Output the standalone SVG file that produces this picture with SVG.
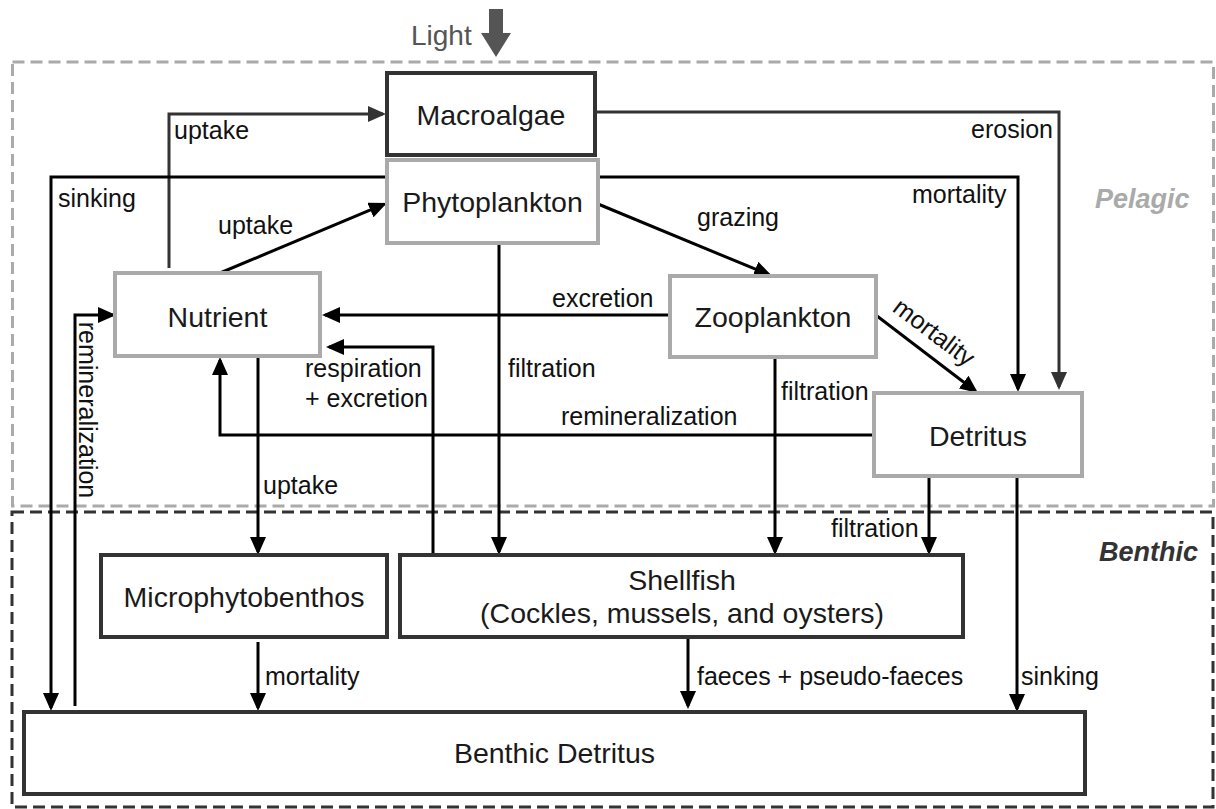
<svg xmlns="http://www.w3.org/2000/svg" width="1216" height="809" viewBox="0 0 1216 809">
<style>
.node{font-family:"Liberation Sans",Arial,sans-serif;font-size:28.5px;fill:#1a1a1a;text-anchor:middle}
.lbl{font-family:"Liberation Sans",Arial,sans-serif;font-size:25px;fill:#111}
.zone{font-family:"Liberation Sans",Arial,sans-serif;font-size:27px;font-weight:bold;font-style:italic}
.dk{fill:#fff;stroke:#333;stroke-width:4}
.gr{fill:#fff;stroke:#aaa;stroke-width:4}
.c{fill:none;stroke:#000;stroke-width:3;marker-end:url(#ah)}
.c2{fill:none;stroke:#333;stroke-width:3;marker-end:url(#ah2)}
</style>
<defs>
<marker id="ah" markerUnits="userSpaceOnUse" markerWidth="18" markerHeight="16" refX="15" refY="8" orient="auto"><path d="M0,0 L18,8 L0,16 z" fill="#000"/></marker>
<marker id="ah2" markerUnits="userSpaceOnUse" markerWidth="18" markerHeight="16" refX="15" refY="8" orient="auto"><path d="M0,0 L18,8 L0,16 z" fill="#333"/></marker>
</defs>
<rect width="1216" height="809" fill="#fff"/>
<g id="zones">
<rect x="12.5" y="62" width="1201" height="444" fill="none" stroke="#aaa" stroke-width="3" stroke-dasharray="12 6"/>
<rect x="12" y="512" width="1201" height="295" fill="none" stroke="#333" stroke-width="3" stroke-dasharray="12 6"/>
<text class="zone" x="1095" y="208" fill="#aaa">Pelagic</text>
<text class="zone" x="1099" y="561" fill="#333">Benthic</text>
</g>
<g id="light">
<text x="411" y="45" style="font-family:'Liberation Sans',Arial,sans-serif;font-size:28px;fill:#555">Light</text>
<polygon points="489,9 503,9 503,33 511,33 496,57 481,33 489,33" fill="#555"/>
</g>
<g id="connectors">
<path class="c2" d="M169,268 V114 H383"/>
<path class="c2" d="M595,112 H1059 V387"/>
<path class="c" d="M387,177 H51 V708"/>
<path class="c" d="M220,273 L384.2,204.2"/>
<path class="c" d="M598,204 L769.2,274.9"/>
<path class="c" d="M598,177 H1018 V389"/>
<path class="c" d="M877,316 L975.6,391.2"/>
<path class="c" d="M670,315 H325"/>
<path class="c" d="M433,555 V347 H329"/>
<path class="c" d="M499,243 V552"/>
<path class="c" d="M775,357 V552"/>
<path class="c" d="M874,435 H220 V360"/>
<path class="c" d="M75,706 V315 H113"/>
<path class="c" d="M258,356 V552"/>
<path class="c" d="M929,476 V552"/>
<path class="c" d="M1017,476 V709"/>
<path class="c" d="M258,642 V708"/>
<path class="c" d="M688,637 V706"/>
</g>
<g id="labels">
<text class="lbl" x="174" y="139">uptake</text>
<text class="lbl" x="58" y="207">sinking</text>
<text class="lbl" x="218" y="234">uptake</text>
<text class="lbl" transform="translate(79,410) rotate(90)" text-anchor="middle">remineralization</text>
<text class="lbl" x="697" y="226">grazing</text>
<text class="lbl" x="912" y="203">mortality</text>
<text class="lbl" x="971" y="138">erosion</text>
<text class="lbl" transform="translate(929,339) rotate(37)" text-anchor="middle">mortality</text>
<text class="lbl" x="552" y="307">excretion</text>
<text class="lbl" x="305" y="377">respiration</text>
<text class="lbl" x="305" y="407">+ excretion</text>
<text class="lbl" x="508" y="377">filtration</text>
<text class="lbl" x="781" y="400">filtration</text>
<text class="lbl" x="561" y="425">remineralization</text>
<text class="lbl" x="263" y="494">uptake</text>
<text class="lbl" x="831" y="537">filtration</text>
<text class="lbl" x="265" y="685">mortality</text>
<text class="lbl" x="697" y="685">faeces + pseudo-faeces</text>
<text class="lbl" x="1021" y="685">sinking</text>
</g>
<g id="macroalgae"><rect class="dk" x="387" y="73" width="208" height="82"/><text class="node" x="491" y="125" fill="#333">Macroalgae</text></g>
<g id="phytoplankton"><rect class="gr" x="387" y="160" width="211" height="83"/><text class="node" x="492.5" y="212">Phytoplankton</text></g>
<g id="nutrient"><rect class="gr" x="115" y="273" width="205" height="83"/><text class="node" x="217.5" y="327">Nutrient</text></g>
<g id="zooplankton"><rect class="gr" x="670" y="276" width="206" height="81"/><text class="node" x="773" y="327">Zooplankton</text></g>
<g id="detritus"><rect class="gr" x="874" y="393" width="208" height="83"/><text class="node" x="978" y="446">Detritus</text></g>
<g id="microphytobenthos"><rect class="dk" x="101" y="555" width="286" height="82"/><text class="node" x="244" y="607">Microphytobenthos</text></g>
<g id="shellfish"><rect class="dk" x="400" y="555" width="563" height="82"/><text class="node" x="682" y="590">Shellfish</text><text class="node" x="682" y="623">(Cockles, mussels, and oysters)</text></g>
<g id="benthic-detritus"><rect class="dk" x="24" y="712" width="1061" height="82"/><text class="node" x="554.5" y="763">Benthic Detritus</text></g>
</svg>
